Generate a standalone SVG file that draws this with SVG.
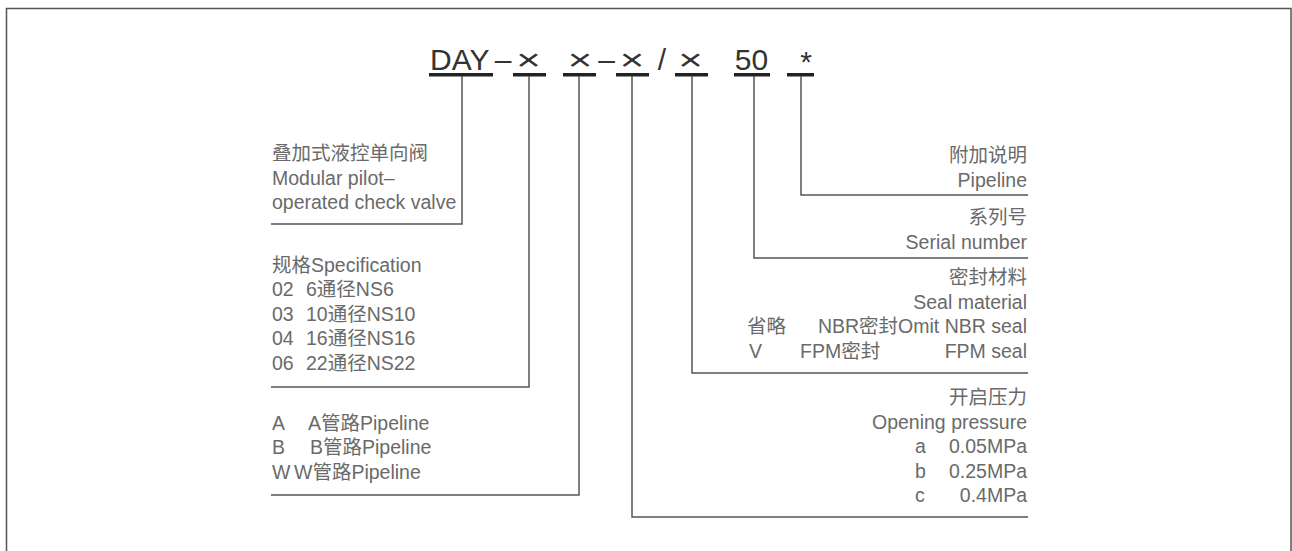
<svg xmlns="http://www.w3.org/2000/svg" width="1292" height="551" viewBox="0 0 1292 551">
<style>
.t{font-family:"Liberation Sans","Noto Sans CJK SC",sans-serif;font-size:19.5px;fill:#6a6a6a}
.r{text-anchor:end}
.big{font-family:"Liberation Sans",sans-serif;font-size:30px;fill:#333}
.m{text-anchor:middle}
.ul{fill:#222}
.ln{fill:none;stroke:#555;stroke-width:1.5}
</style>
<rect width="1292" height="551" fill="#fff"/>
<path class="ln" d="M6.5,551 V8.5 H1291 V551"/>
<g id="code">
<text class="big" x="430" y="70">DAY</text>
<text class="big m" x="503" y="70">–</text>
<text class="big m" transform="translate(528.5,70) scale(1.4,1)">×</text>
<text class="big m" transform="translate(580,70) scale(1.4,1)">×</text>
<text class="big m" x="606.5" y="70">–</text>
<text class="big m" transform="translate(632,70) scale(1.4,1)">×</text>
<text class="big m" x="662" y="70">/</text>
<text class="big m" transform="translate(690.5,70) scale(1.4,1)">×</text>
<text class="big m" x="751.5" y="70">50</text>
<text class="big m" x="806" y="72">*</text>
<rect class="ul" x="429" y="73" width="64" height="3.5"/>
<rect class="ul" x="513" y="73" width="33" height="3.5"/>
<rect class="ul" x="563" y="73" width="33" height="3.5"/>
<rect class="ul" x="616" y="73" width="33" height="3.5"/>
<rect class="ul" x="675" y="73" width="33" height="3.5"/>
<rect class="ul" x="734" y="73" width="36" height="3.5"/>
<rect class="ul" x="787" y="73" width="27" height="3.5"/>
</g>
<g id="connectors">
<path class="ln" d="M462,76 V224 H271"/>
<path class="ln" d="M529,76 V387 H271"/>
<path class="ln" d="M579,76 V495 H271"/>
<path class="ln" d="M632,76 V517 H1028"/>
<path class="ln" d="M692,76 V373 H1028"/>
<path class="ln" d="M754,76 V258 H1028"/>
<path class="ln" d="M801,76 V195 H1028"/>
</g>
<g id="node-type">
<text class="t" x="272" y="160">叠加式液控单向阀</text>
<text class="t" x="272" y="185">Modular pilot–</text>
<text class="t" x="272" y="209">operated check valve</text>
</g>
<g id="node-spec">
<text class="t" x="272" y="272">规格Specification</text>
<text class="t" x="272" y="296">02</text><text class="t" x="306" y="296">6通径NS6</text>
<text class="t" x="272" y="321">03</text><text class="t" x="306" y="321">10通径NS10</text>
<text class="t" x="272" y="345">04</text><text class="t" x="306" y="345">16通径NS16</text>
<text class="t" x="272" y="370">06</text><text class="t" x="306" y="370">22通径NS22</text>
</g>
<g id="node-pipe">
<text class="t" x="272" y="430">A</text><text class="t" x="308" y="430">A管路Pipeline</text>
<text class="t" x="272" y="454">B</text><text class="t" x="310" y="454">B管路Pipeline</text>
<text class="t" x="272" y="479">W</text><text class="t" x="294" y="479">W管路Pipeline</text>
</g>
<g id="node-extra">
<text class="t r" x="1027" y="162">附加说明</text>
<text class="t r" x="1027" y="187">Pipeline</text>
</g>
<g id="node-serial">
<text class="t r" x="1027" y="224">系列号</text>
<text class="t r" x="1027" y="249">Serial number</text>
</g>
<g id="node-seal">
<text class="t r" x="1027" y="284">密封材料</text>
<text class="t r" x="1027" y="309">Seal material</text>
<text class="t" x="747" y="333">省略</text><text class="t r" x="1027" y="333">NBR密封Omit NBR seal</text>
<text class="t" x="749" y="358">V</text><text class="t" x="800" y="358">FPM密封</text><text class="t r" x="1027" y="358">FPM seal</text>
</g>
<g id="node-pressure">
<text class="t r" x="1027" y="404">开启压力</text>
<text class="t r" x="1027" y="429">Opening pressure</text>
<text class="t" x="915" y="453">a</text><text class="t r" x="1027" y="453">0.05MPa</text>
<text class="t" x="915" y="478">b</text><text class="t r" x="1027" y="478">0.25MPa</text>
<text class="t" x="915" y="502">c</text><text class="t r" x="1027" y="502">0.4MPa</text>
</g>
</svg>
